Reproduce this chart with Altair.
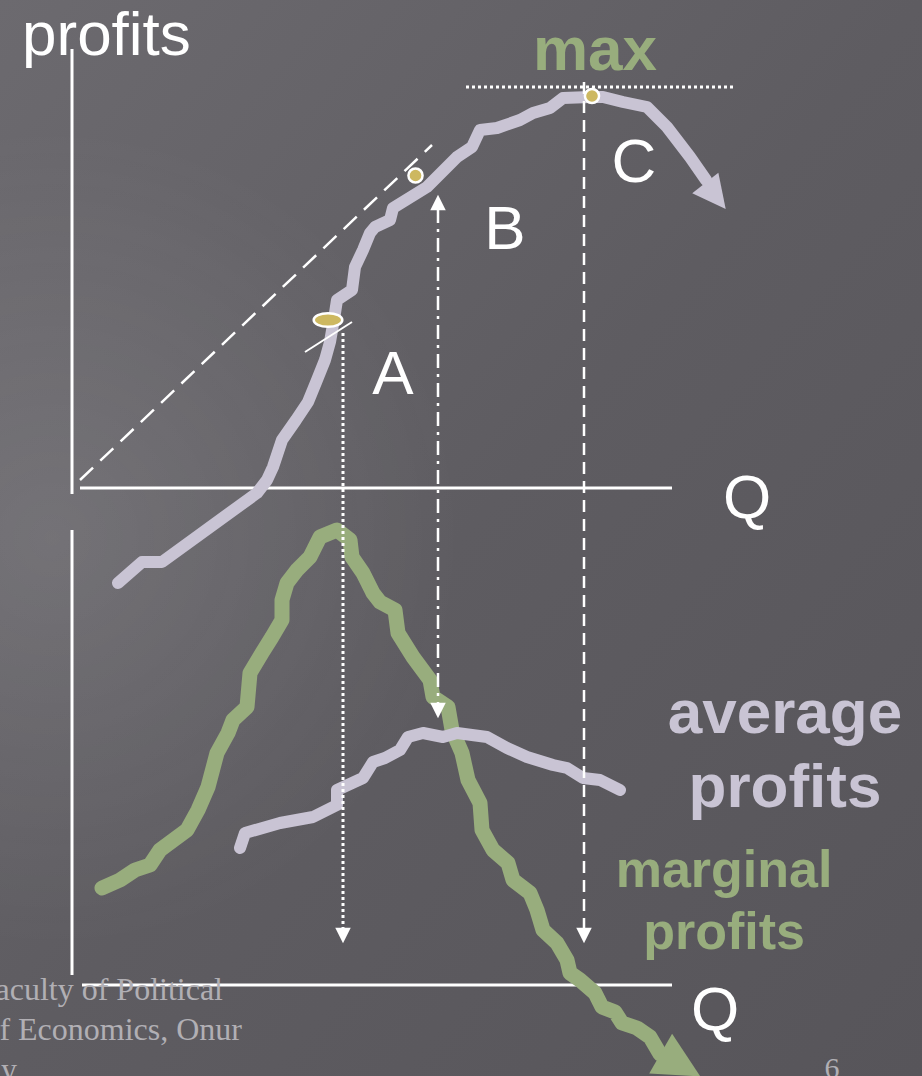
import altair as alt
import pandas as pd

W, H = 922, 1076

# Total profits curve (upper panel), in canvas-like units: q to the right, p downward
total_q = [118, 142, 162, 257, 267, 273, 282, 296, 308, 317, 325, 330, 335, 337, 352, 355,
           363, 370, 375, 390, 393, 427, 437, 457, 472, 480, 497, 520, 533, 550, 563, 590,
           603, 623, 647, 667, 690, 706]
total_p = [583, 562, 562, 493, 480, 467, 440, 420, 402, 380, 360, 342, 313, 300, 290, 267,
           250, 233, 227, 220, 208, 187, 177, 157, 147, 130, 128, 120, 113, 108, 98, 97,
           97, 102, 107, 127, 157, 180]

# Marginal profits curve (lower panel)
marg_q = [102, 120, 135, 150, 160, 187, 198, 208, 217, 228, 233, 247, 250, 262, 272, 282,
          282, 287, 297, 310, 320, 337, 350, 352, 363, 373, 380, 395, 398, 413, 430, 433,
          448, 452, 462, 468, 480, 482, 493, 508, 513, 530, 537, 543, 557, 567, 570, 580,
          595, 602, 615, 622, 637, 650, 660]
marg_p = [888, 880, 870, 865, 850, 830, 810, 787, 753, 733, 720, 707, 673, 653, 637, 620,
          600, 583, 570, 557, 537, 530, 540, 557, 573, 593, 602, 610, 633, 657, 680, 697,
          707, 730, 753, 780, 803, 830, 850, 863, 880, 893, 910, 930, 943, 960, 973, 980,
          993, 1007, 1012, 1023, 1028, 1037, 1054]

# Average profits curve (lower panel)
avg_q = [240, 245, 280, 313, 337, 337, 363, 373, 385, 400, 408, 423, 443, 457, 487, 507,
         527, 553, 567, 583, 600, 620]
avg_p = [848, 833, 823, 817, 805, 790, 778, 762, 758, 750, 737, 733, 737, 733, 737, 748,
         757, 765, 768, 778, 780, 790]

LAVENDER = "#c9c4d4"
GREEN = "#98ad7d"
GOLD = "#cdb860"
WHITE = "#ffffff"
FOOT = "#b1afb4"

xs = alt.Scale(domain=[0, W], nice=False, zero=False)
ys = alt.Scale(domain=[0, H], reverse=True, nice=False, zero=False)


def X(f="x"):
    return alt.X(f"{f}:Q", scale=xs, axis=None)


def Y(f="y"):
    return alt.Y(f"{f}:Q", scale=ys, axis=None)


def curve(qs, ps, color, width):
    df = pd.DataFrame({"x": qs, "y": ps, "i": range(len(qs))})
    return alt.Chart(df).mark_line(
        color=color, strokeWidth=width, strokeCap="round", strokeJoin="round"
    ).encode(x=X(), y=Y(), order="i:Q")


def segments(rows, width=3, dash=None, color=WHITE):
    df = pd.DataFrame(rows, columns=["x", "y", "x2", "y2"])
    kw = dict(color=color, strokeWidth=width, strokeCap="butt")
    if dash:
        kw["strokeDash"] = dash
    return alt.Chart(df).mark_rule(**kw).encode(
        x=X(), y=Y(), x2="x2:Q", y2="y2:Q"
    )


ARROW = "M0,-1L1,1L-1,1Z"


def arrow(x, y, angle, size, color):
    df = pd.DataFrame({"x": [x], "y": [y]})
    return alt.Chart(df).mark_point(
        shape=ARROW, filled=True, color=color, opacity=1, size=size, angle=angle,
        strokeWidth=0
    ).encode(x=X(), y=Y())


def label(text, x, y, size, color, weight="normal", font="Liberation Sans", align="center"):
    df = pd.DataFrame({"x": [x], "y": [y], "t": [text]})
    return alt.Chart(df).mark_text(
        text=text, font=font, fontSize=size, fontWeight=weight, color=color,
        align=align, baseline="alphabetic"
    ).encode(x=X(), y=Y())


one = pd.DataFrame({"a": [0]})

background = alt.Chart(one).mark_rect(
    color=alt.LinearGradient(
        gradient="linear", x1=0, y1=0, x2=1, y2=1,
        stops=[alt.GradientStop(offset=0, color="#6c6a6f"),
               alt.GradientStop(offset=0.5, color="#5e5c61"),
               alt.GradientStop(offset=1, color="#57555a")]
    )
).encode(x=alt.value(0), x2=alt.value(W), y=alt.value(0), y2=alt.value(H))

glow = alt.Chart(one).mark_rect(
    color=alt.RadialGradient(
        gradient="radial", x1=0.12, y1=0.5, r1=0, x2=0.12, y2=0.5, r2=0.38,
        stops=[alt.GradientStop(offset=0, color="rgba(255,255,255,0.10)"),
               alt.GradientStop(offset=1, color="rgba(255,255,255,0)")]
    )
).encode(x=alt.value(0), x2=alt.value(W), y=alt.value(0), y2=alt.value(H))

axes = segments([
    [72, 49, 72, 494],
    [80, 488, 672, 488],
    [72, 530, 72, 975],
    [82, 985, 672, 985],
], width=3)

diag = segments([[80, 480, 432, 145]], width=2.5, dash=[18, 10])
tangent = segments([[305, 352, 352, 322]], width=2)
max_line = segments([[466, 87, 735, 87]], width=3, dash=[3, 3])
drop_c = segments([[584, 82, 584, 929]], width=2.5, dash=[12, 7])
drop_a = segments([[343, 333, 343, 929]], width=3, dash=[3, 3])
drop_b = segments([[438, 209, 438, 704]], width=2.5, dash=[14, 6, 3, 6])

layers = [
    background, glow, axes,
    curve(total_q, total_p, LAVENDER, 12),
    arrow(715.5, 196, 142, 1100, LAVENDER),
    curve(marg_q, marg_p, GREEN, 15),
    arrow(680.5, 1065, 120, 2100, GREEN),
    curve(avg_q, avg_p, LAVENDER, 12),
    diag, tangent, max_line, drop_c, drop_a, drop_b,
    arrow(584, 935.5, 180, 240, WHITE),
    arrow(343, 935.5, 180, 240, WHITE),
    arrow(438, 202.5, 0, 240, WHITE),
    arrow(438, 710.5, 180, 240, WHITE),
]

# points of interest on the total profits curve
dots = pd.DataFrame({"x": [415.5, 592], "y": [175.5, 96]})
layers.append(
    alt.Chart(dots).mark_point(
        shape="circle", filled=True, fill=GOLD, stroke=WHITE, strokeWidth=2.5,
        size=200, opacity=1
    ).encode(x=X(), y=Y())
)
layers.append(
    alt.Chart(pd.DataFrame({"x": [328], "y": [320]})).mark_point(
        shape="M-1,0A1,0.47,0,1,0,1,0A1,0.47,0,1,0,-1,0Z", filled=True, fill=GOLD,
        stroke=WHITE, strokeWidth=2.5, size=820, opacity=1
    ).encode(x=X(), y=Y())
)

layers += [
    label("profits", 22, 55, 62, WHITE, align="left"),
    label("max", 595, 70, 62, GREEN, weight="bold"),
    label("C", 634, 182, 62, WHITE),
    label("B", 505, 249, 62, WHITE),
    label("A", 393, 394, 62, WHITE),
    label("Q", 747, 518, 62, WHITE),
    label("Q", 715, 1030, 62, WHITE),
    label("average", 785, 733, 62, LAVENDER, weight="bold"),
    label("profits", 785, 807, 62, LAVENDER, weight="bold"),
    label("marginal", 724, 887, 52, GREEN, weight="bold"),
    label("profits", 724, 949, 52, GREEN, weight="bold"),
    label("aculty of Political", 223, 1000, 32, FOOT, font="Liberation Serif", align="right"),
    label("f Economics, Onur", 242, 1040, 32, FOOT, font="Liberation Serif", align="right"),
    label("y", 17, 1080, 32, FOOT, font="Liberation Serif", align="right"),
    label("6", 832, 1078, 30, FOOT, font="Liberation Serif"),
]

chart = alt.layer(*layers).properties(
    width=W, height=H, padding=0, autosize=alt.AutoSizeParams(type="none")
).configure_view(stroke=None, strokeWidth=0).configure(background="#5e5c61")

chart.save("out.html", embed_options={"renderer": "svg", "actions": False})
